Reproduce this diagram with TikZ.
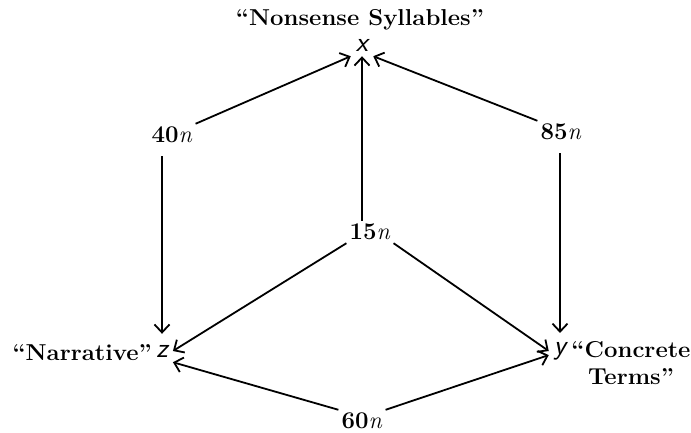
\documentclass[tikz,border=0pt]{standalone}
\usepackage{fontspec}
\usepackage{graphicx}
\usetikzlibrary{arrows.meta}
\newcommand\widetext[1]{\scalebox{1.04}[1]{#1}}
\tikzset{
  lbl/.style={inner sep=0pt, font=\fontsize{23}{27}\selectfont\bfseries},
  num/.style={inner sep=3pt, font=\fontsize{24}{25}\selectfont},
  var/.style={inner sep=5pt, font=\fontsize{28}{28}\sffamily\itshape},
  conn/.style={line width=1.8pt, -{Straight Barb[length=8pt,width=15pt,line width=1.8pt]}},
}
\begin{document}
\begin{tikzpicture}[x=1pt,y=-1pt]
\useasboundingbox[fill=white] (0,0) rectangle (691,432);
% variables
\node[var] (X) at (362,45) {x};
\node[var] (Z) at (162,351) {z};
\node[var] (Y) at (560,351) {y};
% labels
\node[lbl, anchor=base] (T) at (360,25) {\widetext{``Nonsense Syllables''}};
\node[lbl, anchor=base east] (N) at (152,360) {\widetext{``Narrative''}};
\node[lbl, anchor=north, align=center] (C) at (631,341) {\widetext{``Concrete}\\\widetext{Terms''}};
% numbers
\node[num] (n40) at (172,135) {\textbf{40}\textit{n}};
\node[num] (n85) at (561,132) {\textbf{85}\textit{n}};
\node[num] (n15) at (370,232) {\textbf{15}\textit{n}};
\node[num] (n60) at (362,421) {\textbf{60}\textit{n}};
% connectors
\draw[conn] (n40.north east) -- (X.south west);
\draw[conn] (n15.north -| X.south) -- (X.south);
\draw[conn] (n85.north west) -- (X.south east);
\draw[conn, shorten <=10pt, shorten >=6pt] (n40.south -| Z.north) -- (Z.north);
\draw[conn, shorten <=10pt, shorten >=4pt] (n85.south -| Y.north) -- (Y.north);
\draw[conn] (n15.south west) -- (Z.east);
\draw[conn] (n15.south east) -- (Y.west);
\draw[conn] (n60.north west) -- (Z.south east);
\draw[conn] (n60.north east) -- (Y.200);
\end{tikzpicture}
\end{document}
